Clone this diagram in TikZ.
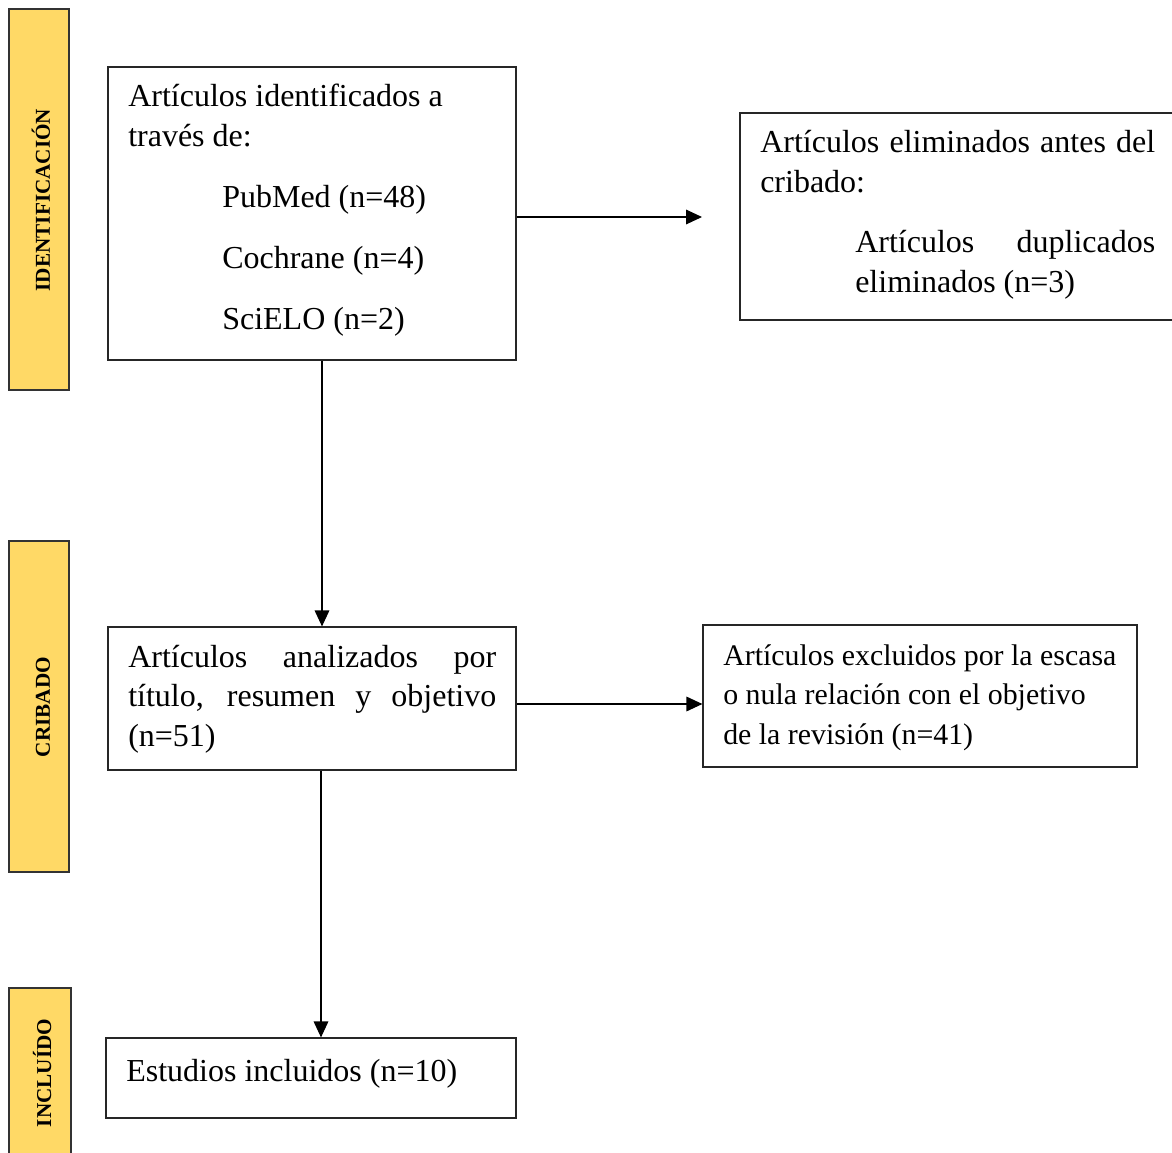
\documentclass[tikz,border=0pt]{standalone}
\usepackage{fontspec}
\setmainfont{Liberation Serif}
\usetikzlibrary{arrows.meta}
\definecolor{sidegold}{RGB}{255,217,102}
\tikzset{
  box/.style={draw=black!85, line width=0.9pt, rectangle, inner sep=0pt},
  side/.style={draw=black!80, line width=0.9pt, fill=sidegold, rectangle, inner sep=0pt, minimum width=45pt},
  sidelabel/.style={rotate=90, anchor=base, inner sep=0pt, font=\fontsize{15.9pt}{18pt}\selectfont\bfseries},
  txt/.style={anchor=base west, inner sep=0pt, font=\fontsize{24pt}{30pt}\selectfont},
  txtd/.style={anchor=base west, inner sep=0pt, font=\fontsize{22.4pt}{30pt}\selectfont},
  arr/.style={line width=0.9pt, -{Triangle[length=12pt,width=11pt]}}
}
\begin{document}
\begin{tikzpicture}[x=0.75pt,y=-0.75pt]
\useasboundingbox (0,0) rectangle (1172,1153);
% sidebars
\node[side, minimum height=285.75pt] (s1) at (39,199.5) {};
\node[side, minimum height=248.25pt] (s2) at (39,706.5) {};
\node[side, minimum width=46.5pt, minimum height=136.5pt] (s3) at (40,1079) {};
\node[sidelabel] (l1) at (50,200) {IDENTIFICACIÓN};
\node[sidelabel] (l2) at (50,707) {CRIBADO};
\node[sidelabel] (l3) at (51,1073) {INCLUÍDO};
% boxes
\node[box, minimum width=306pt, minimum height=219.75pt] (A) at (312,213.5) {};
\node[box, minimum width=345pt, minimum height=155.25pt] (B) at (970,216.5) {};
\node[box, minimum width=306pt, minimum height=107.25pt] (C) at (312,698.5) {};
\node[box, minimum width=325.5pt, minimum height=106.5pt] (D) at (920,696) {};
\node[box, minimum width=307.5pt, minimum height=60pt] (E) at (311,1078) {};
% texts box A
\node[txt] (a1) at (128,106) {Artículos identificados a};
\node[txt] (a2) at (128,146) {través de:};
\node[txt] (a3) at (222,207) {PubMed (n=48)};
\node[txt] (a4) at (222,268) {Cochrane (n=4)};
\node[txt] (a5) at (222,329) {SciELO (n=2)};
% texts box B
\node[txt] (b1) at (760,152) {\makebox[296.25pt][s]{Artículos eliminados antes del}};
\node[txt] (b2) at (760,192) {cribado:};
\node[txt] (b3) at (855,252) {\makebox[225pt][s]{Artículos duplicados}};
\node[txt] (b4) at (855,292) {eliminados (n=3)};
% texts box C
\node[txt] (c1) at (128,667) {\makebox[276pt][s]{Artículos analizados por}};
\node[txt] (c2) at (128,706) {\makebox[276pt][s]{título, resumen y objetivo}};
\node[txt] (c3) at (128,746) {(n=51)};
% texts box D
\node[txtd] (d1) at (723,665) {Artículos excluidos por la escasa};
\node[txtd] (d2) at (723,704) {o nula relación con el objetivo};
\node[txtd] (d3) at (723,744) {de la revisión (n=41)};
% text box E
\node[txt] (e1) at (126,1081) {Estudios incluidos (n=10)};
% connectors
\coordinate (ab) at (702,217);
\coordinate (cd) at (703,704);
\draw[arr] (A.east |- ab) -- (ab);
\draw[arr] ([xshift=7.5pt]A.south) -- ([xshift=7.5pt]A.south |- C.north);
\draw[arr] (C.east |- cd) -- (D.west |- cd);
\draw[arr] ([xshift=6.75pt]C.south) -- ([xshift=6.75pt]C.south |- E.north);
\end{tikzpicture}
\end{document}
